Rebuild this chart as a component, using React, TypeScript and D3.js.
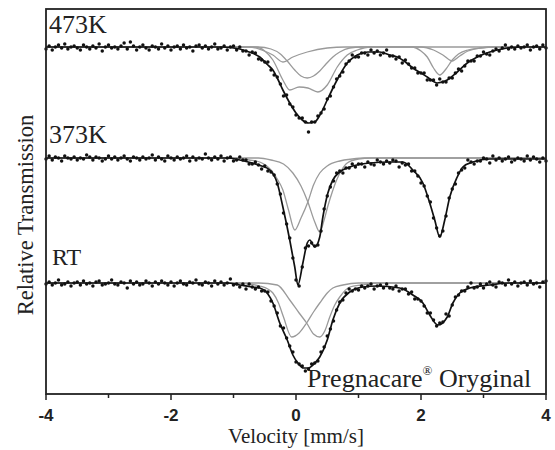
import React from "react";
import * as d3 from "d3";

const W = 555;
const H = 450;
const margin = { top: 9, right: 9, bottom: 56, left: 46 };
const innerW = W - margin.left - margin.right;
const innerH = H - margin.top - margin.bottom;

// channels: -4 .. 4 mm/s, step 0.05
const velStart = -4;
const velStep = 0.05;

const labels = ["473K", "373K", "RT"];
// baseline of each spectrum on the stacked transmission axis (%)
const baselines = [100, 88.9, 76.4];

// measured absorption (per mille below baseline), one value per channel
const abs473 = [
  2, -1, 3, 0, -2, 1, -3, 2, 0, -1,
  1, 3, -2, 0, 2, -1, 1, -3, 4, 0,
  -2, 1, 0, 2, -1, -4, 2, -5, -1, 3,
  0, -2, 1, 3, -1, 0, 2, -3, 1, -1,
  3, 0, -1, 2, -2, 1, 0, 4, -1, -2,
  1, -1, 2, 0, -3, 2, 1, -1, 3, 0,
  -1, 3, 0, 4, 4, 8, 5, 6, 12, 13,
  15, 15, 23, 28, 30, 37, 49, 48, 57, 60,
  68, 71, 71, 75, 85, 75, 75, 69, 66, 62,
  52, 49, 40, 32, 29, 25, 17, 14, 8, 10,
  10, 6, 6, 8, 3, 6, 4, 8, 6, 3,
  9, 9, 12, 10, 16, 13, 17, 21, 21, 26,
  26, 26, 33, 33, 33, 38, 32, 35, 35, 31,
  31, 26, 22, 24, 19, 14, 14, 14, 9, 9,
  5, 7, 8, 4, 2, 4, 1, -2, 2, 0,
  2, -1, 1, 0, -2, 3, 0, -1, 2, -2,
  1,
];
const abs373 = [
  1, -2, 2, -1, 0, 3, -2, 0, 1, -1,
  2, 0, 1, -3, -1, 2, -1, 0, 3, 1,
  -2, 1, -1, 2, 0, -2, 1, 3, -1, 0,
  2, -1, 1, 0, -3, 2, -1, 1, 3, -2,
  0, 2, -1, 1, 0, -2, 3, -1, 2, 0,
  1, -4, 0, 2, -1, 1, -2, 3, 0, -1,
  3, 2, -1, 2, 2, 6, 6, 4, 7, 11,
  8, 13, 14, 17, 26, 36, 55, 66, 80, 100,
  122, 128, 109, 90, 88, 85, 88, 87, 73, 51,
  38, 29, 23, 15, 13, 15, 10, 10, 6, 9,
  6, 6, 9, 4, 6, 7, 2, 4, 6, 3,
  5, 2, 3, 9, 5, 7, 6, 13, 13, 18,
  25, 28, 38, 44, 60, 70, 78, 73, 58, 40,
  31, 26, 15, 12, 10, 2, 4, 6, 3, 3,
  0, 1, 5, -2, 2, 0, 3, 1, -1, 4,
  2, 0, 1, 3, -2, 2, -1, 1, 4, 0,
  3,
];
const absRT = [
  1, -1, 2, 0, -3, 2, 1, -1, 3, 0,
  -1, 2, -2, 1, 0, 3, -1, -2, 2, 1,
  0, -3, 1, 2, -1, 0, 5, -2, 1, -1,
  2, 1, -2, 0, 3, -1, 1, -2, 0, 2,
  -1, 3, 0, -2, 1, 2, -1, 0, -3, 1,
  2, -1, 0, 3, -2, 1, -1, 2, 0, -4,
  2, 1, 4, 1, 6, 1, 4, 6, 4, 8,
  8, 9, 18, 23, 30, 43, 45, 55, 63, 69,
  79, 81, 83, 88, 86, 81, 80, 78, 69, 64,
  53, 46, 38, 27, 19, 17, 10, 6, 8, 6,
  7, 3, 5, 3, 1, 6, 3, 2, 5, 1,
  5, 6, 3, 8, 6, 6, 11, 9, 16, 16,
  18, 23, 30, 30, 37, 43, 40, 39, 31, 33,
  22, 14, 12, 8, 8, 4, 0, 5, 4, 1,
  5, 1, -1, 2, 4, -1, 0, 2, -3, 1,
  -1, 3, 0, -1, 2, -2, 1, 0, 4, -1,
  -2,
];

// fitted envelope, [velocity, absorption per mille]
const fit473: [number, number][] = [
  [-4, 0], [-1.2, 0], [-0.9, 2], [-0.75, 5], [-0.58, 10], [-0.45, 18], [-0.37, 23],
  [-0.3, 31], [-0.21, 43], [-0.1, 56], [0.0, 66], [0.1, 73], [0.2, 76], [0.3, 75],
  [0.4, 66], [0.5, 53], [0.6, 40], [0.7, 28], [0.82, 16], [0.98, 8], [1.15, 5],
  [1.34, 5], [1.5, 8], [1.62, 10], [1.75, 15], [1.87, 21], [2.0, 26], [2.1, 30],
  [2.26, 36], [2.42, 33], [2.58, 25], [2.74, 16], [2.9, 10], [3.1, 5], [3.38, 1],
  [3.6, 0], [4, 0],
];
const fit373: [number, number][] = [
  [-4, 0], [-1.1, 0], [-0.9, 2], [-0.7, 5], [-0.55, 8], [-0.42, 12], [-0.3, 25],
  [-0.21, 49], [-0.1, 82], [-0.02, 109], [0.03, 127], [0.11, 105], [0.18, 85],
  [0.22, 82], [0.3, 89], [0.38, 79], [0.43, 59], [0.51, 35], [0.59, 22], [0.7, 14],
  [0.86, 9], [1.18, 5], [1.5, 4], [1.71, 4], [1.87, 12], [2.03, 25], [2.14, 45],
  [2.22, 62], [2.3, 79], [2.38, 62], [2.46, 39], [2.58, 19], [2.67, 9], [2.83, 4],
  [3.1, 1], [4, 1],
];
const fitRT: [number, number][] = [
  [-4, 0], [-1.1, 0], [-0.9, 2], [-0.7, 4], [-0.58, 5], [-0.45, 11], [-0.37, 20],
  [-0.26, 40], [-0.14, 57], [-0.05, 72], [0.03, 80], [0.12, 85], [0.2, 85],
  [0.27, 82], [0.38, 74], [0.5, 57], [0.59, 37], [0.7, 20], [0.86, 9], [1.07, 4],
  [1.3, 3], [1.66, 5], [1.87, 12], [2.03, 20], [2.14, 32], [2.27, 42], [2.42, 34],
  [2.51, 20], [2.62, 10], [2.78, 5], [3.1, 2], [3.4, 0], [4, 0],
];

// sub-spectra (grey), [velocity, absorption per mille]
const sub473: [number, number][][] = [
  [[-4, 0], [-0.6, 0], [-0.4, 2], [-0.25, 7], [-0.14, 14], [-0.02, 23], [0.08, 29],
   [0.18, 31], [0.28, 29], [0.38, 24], [0.48, 17], [0.59, 10], [0.7, 5], [0.86, 1],
   [1.05, 0], [1.85, 0], [2.0, 4], [2.1, 10], [2.2, 21], [2.3, 28], [2.4, 22],
   [2.5, 13], [2.6, 7], [2.75, 3], [2.95, 1], [3.2, 0], [4, 0]],
  [[-4, 0], [-0.65, 0], [-0.5, 4], [-0.37, 13], [-0.21, 33], [-0.1, 43], [0.05, 40],
   [0.19, 41], [0.35, 45], [0.5, 38], [0.66, 20], [0.82, 8], [0.98, 3], [1.2, 0], [4, 0]],
  [[-4, 0], [-0.75, 0], [-0.55, 3], [-0.37, 8], [-0.21, 15], [-0.05, 10], [0.18, 5],
   [0.5, 1], [0.8, 0], [2.0, 0], [2.2, 3], [2.35, 8], [2.5, 14], [2.62, 9], [2.75, 4],
   [2.95, 1], [3.15, 0], [4, 0]],
];
const sub373: [number, number][][] = [
  [[-4, 0], [-1.0, 0], [-0.75, 2], [-0.58, 4], [-0.4, 12], [-0.3, 21], [-0.21, 32],
   [-0.12, 52], [-0.02, 72], [0.08, 60], [0.19, 44], [0.28, 27], [0.38, 15], [0.5, 8],
   [0.7, 3], [0.9, 1], [1.1, 0], [4, 0]],
  [[-4, 0], [-0.6, 0], [-0.4, 2], [-0.2, 6], [-0.05, 15], [0.08, 28], [0.19, 44],
   [0.3, 64], [0.38, 74], [0.45, 62], [0.51, 48], [0.58, 34], [0.65, 22], [0.73, 12],
   [0.82, 5], [1.0, 1], [1.2, 0], [4, 0]],
];
const subRT: [number, number][][] = [
  [[-4, 0], [-1.0, 0], [-0.75, 1], [-0.58, 3], [-0.45, 6], [-0.37, 10], [-0.28, 20],
   [-0.2, 34], [-0.07, 54], [0.05, 50], [0.17, 40], [0.28, 29], [0.38, 20], [0.5, 10],
   [0.59, 5], [0.75, 2], [1.0, 0], [4, 0]],
  [[-4, 0], [-0.6, 0], [-0.3, 2], [-0.1, 17], [0.05, 30], [0.17, 40], [0.28, 51],
   [0.38, 54], [0.46, 48], [0.54, 34], [0.62, 22], [0.7, 14], [0.86, 4], [1.05, 2],
   [1.3, 0], [4, 0]],
];

const spectra = [
  { label: labels[0], base: baselines[0], abs: abs473, fit: fit473, subs: sub473 },
  { label: labels[1], base: baselines[1], abs: abs373, fit: fit373, subs: sub373 },
  { label: labels[2], base: baselines[2], abs: absRT, fit: fitRT, subs: subRT },
];

// label anchors (page px)
const labelPos = [
  { x: 49, y: 33, size: 26 },
  { x: 49, y: 143, size: 26 },
  { x: 52, y: 265, size: 24 },
];

const serif = "'Liberation Serif', 'Times New Roman', serif";
const sans = "'Liberation Sans', Arial, sans-serif";

const App = () => {
  const x = d3.scaleLinear().domain([-4, 4]).range([0, innerW]);
  const y = d3.scaleLinear().domain([65.3, 103.8]).range([innerH, 0]);

  const majors = x.ticks(4);
  const minors = x.ticks(8).filter((t) => !majors.includes(t));

  return (
    <div style={{ position: "absolute", left: 0, top: 0 }}>
      <svg width={W} height={H} style={{ display: "block", background: "#fff" }}>
        <g transform={`translate(${margin.left},${margin.top})`}>
          {spectra.map((s, si) => {
            const line = d3
              .line<[number, number]>()
              .x((d) => x(d[0]))
              .y((d) => y(s.base - d[1] / 10))
              .curve(d3.curveMonotoneX);
            return (
              <g key={si}>
                {s.subs.map((c, ci) => (
                  <path key={ci} d={line(c) || ""} fill="none" stroke="#9a9a9a" strokeWidth={1.3} />
                ))}
                {s.abs.map((a, i) => (
                  <circle
                    key={i}
                    cx={x(velStart + i * velStep)}
                    cy={y(s.base - a / 10)}
                    r={1.75}
                    fill="#111"
                  />
                ))}
                <path d={line(s.fit) || ""} fill="none" stroke="#111" strokeWidth={1.7} />
              </g>
            );
          })}
          <rect x={0} y={0} width={innerW} height={innerH} fill="none" stroke="#222" strokeWidth={1.8} />
          {majors.map((t) => (
            <g key={"M" + t} transform={`translate(${x(t)},${innerH})`}>
              <line y1={0} y2={6} stroke="#222" strokeWidth={1.5} />
              <text y={27} textAnchor="middle" fontFamily={sans} fontWeight="bold" fontSize={17} fill="#222">
                {t}
              </text>
            </g>
          ))}
          {minors.map((t) => (
            <line key={"m" + t} x1={x(t)} x2={x(t)} y1={innerH} y2={innerH + 4} stroke="#222" strokeWidth={1.5} />
          ))}
        </g>
        {spectra.map((s, si) => (
          <text
            key={si}
            x={labelPos[si].x}
            y={labelPos[si].y}
            fontFamily={serif}
            fontSize={labelPos[si].size}
            fill="#222"
          >
            {s.label}
          </text>
        ))}
        <text x={307} y={387} fontFamily={serif} fontSize={26} fill="#222">
          Pregnacare
          <tspan dy={-12} fontSize={13}>®</tspan>
          <tspan dy={12}> Oryginal</tspan>
        </text>
        <text x={296} y={443} textAnchor="middle" fontFamily={serif} fontSize={21} fill="#222">
          Velocity [mm/s]
        </text>
        <text
          transform={`translate(33,215) rotate(-90)`}
          textAnchor="middle"
          fontFamily={serif}
          fontSize={22.5}
          fill="#222"
        >
          Relative Transmission
        </text>
      </svg>
    </div>
  );
};

export default App;
